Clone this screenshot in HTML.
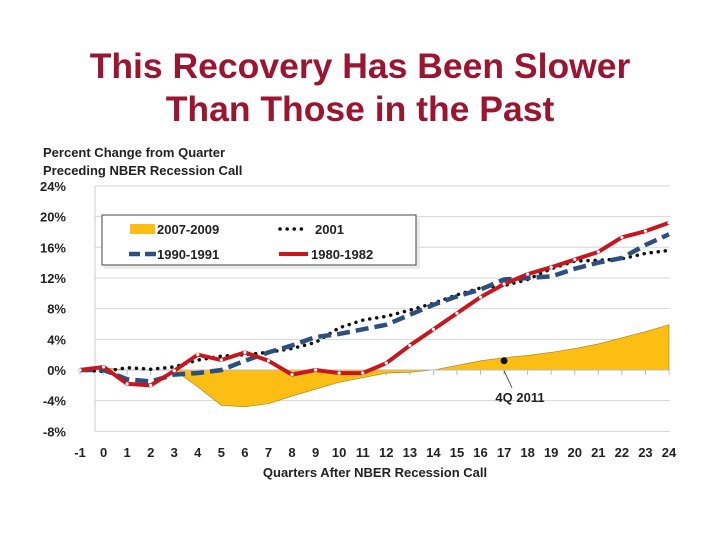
<!DOCTYPE html>
<html><head><meta charset="utf-8"><style>
body{margin:0;background:#fff;width:720px;height:540px;overflow:hidden;font-family:"Liberation Sans",sans-serif}
.t{position:absolute;left:0;width:720px;text-align:center;color:#9b1530;font-size:35.5px;font-weight:bold;line-height:43px}
</style></head><body>
<div class="t" style="top:45px">This Recovery Has Been Slower<br>Than Those in the Past</div>
<svg id="c" width="720" height="540" style="position:absolute;left:0;top:0"></svg>
<script>
const quarters=[-1,0,1,2,3,4,5,6,7,8,9,10,11,12,13,14,15,16,17,18,19,20,21,22,23,24];
const s2007=[0,0.3,0,0,0,-2.2,-4.6,-4.8,-4.4,-3.4,-2.5,-1.6,-1.0,-0.4,-0.3,0,0.6,1.2,1.6,1.9,2.3,2.8,3.4,4.2,5.0,5.9];
const s2001=[0,-0.2,0.3,0.1,0.4,1.3,1.8,2.0,2.3,2.8,3.6,5.5,6.5,7.0,7.8,8.7,9.8,10.7,11.0,11.8,13.2,14.2,14.3,14.5,15.2,15.6];
const s1990=[0,0,-1.2,-1.5,-0.6,-0.4,0,1.2,2.3,3.2,4.3,4.7,5.3,5.9,7.2,8.5,9.6,10.5,11.8,12.0,12.2,13.2,14.0,14.6,16.3,17.7];
const s1980=[0,0.4,-1.8,-2.0,-0.1,2.0,1.3,2.3,1.2,-0.6,0,-0.4,-0.4,0.9,3.2,5.3,7.4,9.5,11.2,12.5,13.4,14.4,15.4,17.3,18.1,19.2];
const yTicks=[24,20,16,12,8,4,0,-4,-8];
const NS="http://www.w3.org/2000/svg",svg=document.getElementById('c');
const X=q=>80+(q+1)*23.56, Y=v=>370-v*7.67;
function el(t,a,p){const e=document.createElementNS(NS,t);for(const k in a)e.setAttribute(k,a[k]);(p||svg).appendChild(e);return e;}
function tx(x,y,s,anchor,size,name){const e=el('text',{x:x,y:y,'text-anchor':anchor,'font-size':size,'font-weight':'bold',fill:'#222','font-family':'Liberation Sans, sans-serif'});e.textContent=s;return e;}
tx(43,157,'Percent Change from Quarter','start',13,'y-axis-title-line1');
tx(43,175,'Preceding NBER Recession Call','start',13,'y-axis-title-line2');
yTicks.forEach(v=>{
 const g=el('line',{x1:95,x2:670,y1:Y(v),y2:Y(v),stroke:'#d6d6d6','stroke-width':1});
 
 tx(66,Y(v)+5,v+'%','end',13,'y-tick-label');
});
el('line',{x1:95,x2:95,y1:Y(24),y2:Y(-8),stroke:'#ccc'});
quarters.forEach(q=>{tx(X(q),457,String(q),'middle',13,'x-tick-label');
 el('line',{x1:X(q),x2:X(q),y1:370,y2:375,stroke:'#bbb'});});
tx(375,477,'Quarters After NBER Recession Call','middle',13,'x-axis-title');
let d='M'+X(quarters[0])+','+Y(0);
quarters.forEach((q,i)=>d+=' L'+X(q)+','+Y(s2007[i]));
d+=' L'+X(24)+','+Y(0)+' Z';
const a=el('path',{d:d,fill:'#fdbe13',stroke:'#a08020','stroke-width':0.6});

el('line',{x1:X(-1),x2:X(24),y1:370,y2:370,stroke:'#bbb'});
function line(arr,attrs,name){const p=quarters.map((q,i)=>X(q)+','+Y(arr[i])).join(' ');
 const e=el('polyline',Object.assign({points:p,fill:'none'},attrs));return e;}
line(s2001,{stroke:'#111','stroke-width':3.5,'stroke-dasharray':'0.1 7','stroke-linecap':'round'},'line-2001');
line(s1990,{stroke:'#2b4f7e','stroke-width':4.5,'stroke-dasharray':'13 6'},'line-1990-1991');
line(s1980,{stroke:'#c8161d','stroke-width':4,'stroke-linejoin':'round'},'line-1980-1982');
quarters.forEach((q,i)=>{const m=el('circle',{cx:X(q),cy:Y(s1980[i]),r:1.6,fill:'#fff'});});
const dot=el('circle',{cx:X(17),cy:Y(s2007[18-1]),r:3.5,fill:'#111'});
el('line',{x1:X(17),y1:Y(s2007[18-1])+10,x2:X(17)+8,y2:388,stroke:'#333','stroke-width':0.8});
tx(520,402,'4Q 2011','middle',13,'annotation-label');
const lg=el('g',{});
el('rect',{x:104,y:218,width:316,height:51,fill:'#ddd',opacity:0.6},lg);
el('rect',{x:102,y:215,width:314,height:50,fill:'#fff',stroke:'#444','stroke-width':1},lg);
el('rect',{x:130,y:224,width:25,height:10,fill:'#fdbe13'},lg);
tx(157,234,'2007-2009','start',13,'legend-2007-2009');
el('line',{x1:280,x2:306,y1:229,y2:229,stroke:'#111','stroke-width':3.5,'stroke-dasharray':'0.1 7','stroke-linecap':'round'},lg);
tx(315,234,'2001','start',13,'legend-2001');
el('line',{x1:129,x2:156,y1:254,y2:254,stroke:'#2b4f7e','stroke-width':4.5,'stroke-dasharray':'11 5'},lg);
tx(157,259,'1990-1991','start',13,'legend-1990-1991');
el('line',{x1:279,x2:308,y1:254,y2:254,stroke:'#c8161d','stroke-width':4},lg);
tx(311,259,'1980-1982','start',13,'legend-1980-1982');
</script>
</body></html>
